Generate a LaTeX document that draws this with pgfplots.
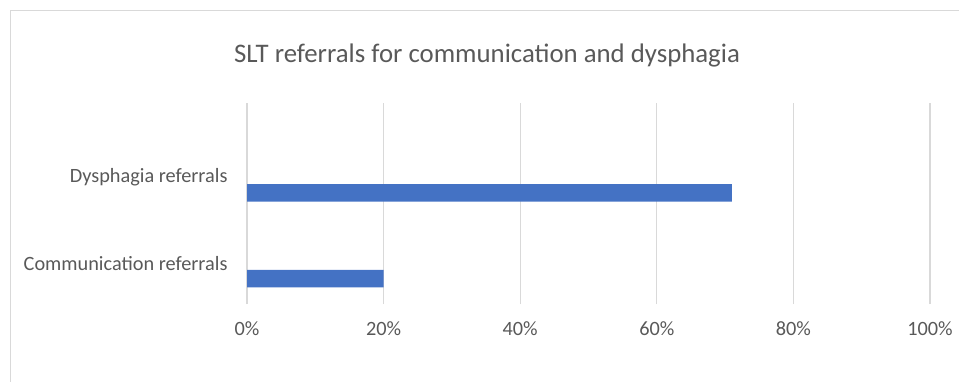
\documentclass[border=0pt]{standalone}
\usepackage{pgfplots}
\pgfplotsset{compat=1.18}
\usepackage{fontspec}
\setmainfont{Carlito}
\definecolor{txt}{HTML}{595959}
\definecolor{gridc}{HTML}{D9D9D9}
\definecolor{barc}{HTML}{4472C4}
\begin{document}
\begin{tikzpicture}[x=1pt,y=1pt]
\useasboundingbox (0,0) rectangle (959,381);
\draw[gridc, line width=1pt] (10.5,-5) -- (10.5,370.5) -- (965,370.5);
\node[text=txt, font=\fontsize{26.8pt}{30pt}\selectfont] at (487,326) {SLT referrals for communication and dysphagia};
\begin{axis}[
  at={(247pt,77pt)}, anchor=south west,
  scale only axis, width=683pt, height=201pt,
  xmin=0, xmax=100, ymin=0, ymax=201,
  axis line style={draw=none},
  xtick={0,20,40,60,80,100},
  xticklabels={0\%,20\%,40\%,60\%,80\%,100\%},
  ytick={40,127},
  yticklabels={Communication referrals,Dysphagia referrals},
  major tick length=0pt,
  xmajorgrids, major grid style={gridc, line width=1.2pt},
  tick label style={text=txt, font=\fontsize{20.3pt}{24pt}\selectfont},
  xticklabel style={yshift=-14pt},
  yticklabel style={xshift=-16pt},
  clip=false,
]
\addplot[xbar, bar width=17.5, fill=barc, draw=none, bar shift=0pt] coordinates {(20,25.3) (71,111.2)};
\end{axis}
\end{tikzpicture}
\end{document}
